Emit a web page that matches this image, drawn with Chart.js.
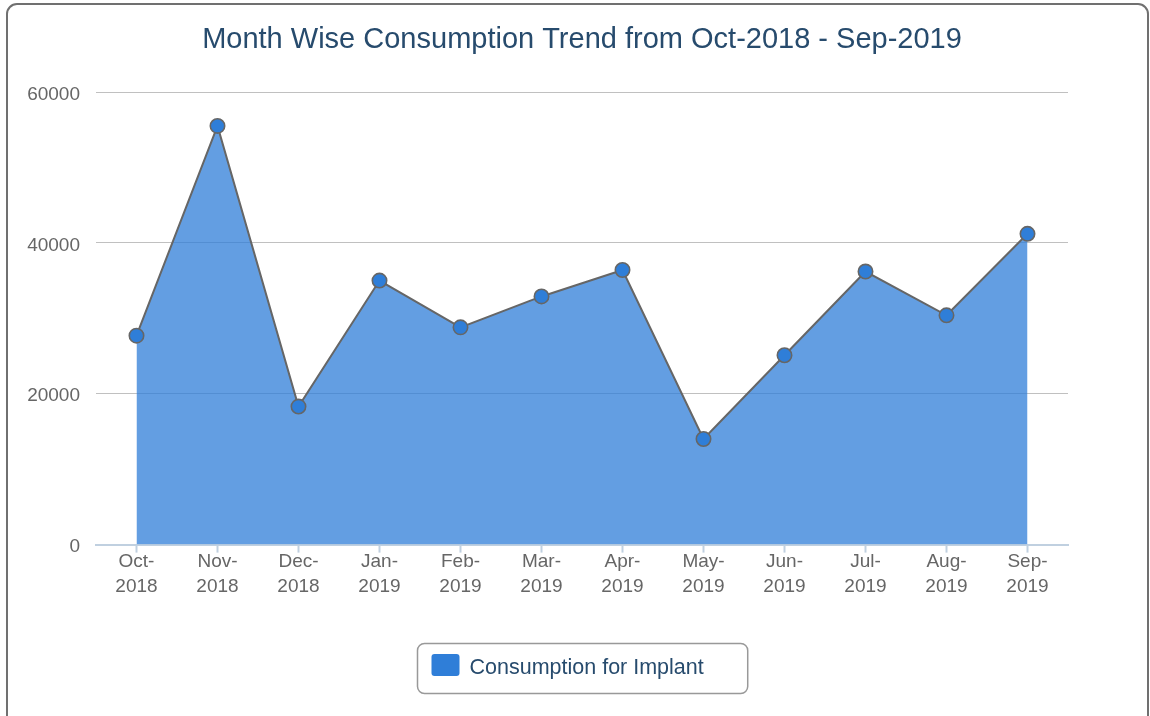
<!DOCTYPE html>
<html>
<head>
<meta charset="utf-8">
<script src="https://cdn.jsdelivr.net/npm/chart.js@4"></script>
<style>
  html, body { margin: 0; padding: 0; background: #ffffff; }
  canvas { display: block; }
</style>
</head>
<body>
<canvas id="c" width="1150" height="716"></canvas>
<script>
const months = ['Oct-', 'Nov-', 'Dec-', 'Jan-', 'Feb-', 'Mar-', 'Apr-', 'May-', 'Jun-', 'Jul-', 'Aug-', 'Sep-'];
const years = ['2018', '2018', '2018', '2019', '2019', '2019', '2019', '2019', '2019', '2019', '2019', '2019'];
const consumption = [27700, 55500, 18300, 35000, 28800, 32900, 36400, 14000, 25100, 36200, 30400, 41200];
const yTicks = [0, 20000, 40000, 60000];
const seriesName = 'Consumption for Implant';
const titleText = 'Month Wise Consumption Trend from Oct-2018 - Sep-2019';

const labels = months.map((m, i) => [m, years[i]]);
const FONT = 'Arial, "Liberation Sans", sans-serif';

function roundRect(ctx, x, y, w, h, r) {
  ctx.beginPath();
  ctx.moveTo(x + r, y);
  ctx.lineTo(x + w - r, y);
  ctx.arcTo(x + w, y, x + w, y + r, r);
  ctx.lineTo(x + w, y + h - r);
  ctx.arcTo(x + w, y + h, x + w - r, y + h, r);
  ctx.lineTo(x + r, y + h);
  ctx.arcTo(x, y + h, x, y + h - r, r);
  ctx.lineTo(x, y + r);
  ctx.arcTo(x, y, x + r, y, r);
  ctx.closePath();
}

const framePlugin = {
  id: 'frame',
  afterDraw(chart) {
    const ctx = chart.ctx;
    ctx.save();
    // outer chart border
    ctx.strokeStyle = '#707070';
    ctx.lineWidth = 2;
    roundRect(ctx, 7, 4, 1141, 740, 10);
    ctx.stroke();

    // legend
    const ds = chart.data.datasets[0];
    const ca = chart.chartArea;
    const cx = (ca.left + ca.right) / 2;
    ctx.font = '21.5px ' + FONT;
    const tw = ctx.measureText(ds.label).width;
    const padL = 14, sw = 28, sh = 22, gap = 10, padR = 44;
    const bw = padL + sw + gap + tw + padR;
    const bx = Math.round(cx - bw / 2) + 0.5;
    const by = 643.5, bh = 50;
    ctx.strokeStyle = '#999999';
    ctx.lineWidth = 1.5;
    roundRect(ctx, bx, by, bw, bh, 7);
    ctx.fillStyle = '#ffffff';
    ctx.fill();
    ctx.stroke();
    ctx.fillStyle = ds.pointBackgroundColor;
    roundRect(ctx, bx + padL, by + 10.5, sw, sh, 3);
    ctx.fill();
    ctx.fillStyle = '#274b6d';
    ctx.textBaseline = 'alphabetic';
    ctx.textAlign = 'left';
    ctx.fillText(ds.label, bx + padL + sw + gap, by + 30.5);
    ctx.restore();
  }
};

new Chart(document.getElementById('c'), {
  type: 'line',
  data: {
    labels: labels,
    datasets: [{
      label: seriesName,
      data: consumption,
      fill: 'origin',
      backgroundColor: 'rgba(47,126,216,0.75)',
      borderColor: '#666666',
      borderWidth: 2,
      tension: 0,
      pointRadius: 7.2,
      pointHoverRadius: 7.2,
      pointBackgroundColor: '#2f7ed8',
      pointBorderColor: '#666666',
      pointBorderWidth: 1.6
    }]
  },
  options: {
    responsive: false,
    devicePixelRatio: 1,
    animation: false,
    layout: { padding: { left: 0, right: 82, top: 0, bottom: 120 } },
    plugins: {
      legend: { display: false },
      tooltip: { enabled: false },
      title: {
        display: true,
        text: titleText,
        fullSize: false,
        color: '#274b6d',
        font: { family: FONT, size: 29, weight: 'normal', lineHeight: 1.2 },
        padding: { top: 23, bottom: 34.2 }
      }
    },
    scales: {
      x: {
        type: 'category',
        offset: true,
        grid: {
          display: true,
          offset: false,
          drawOnChartArea: false,
          drawTicks: true,
          tickLength: 8,
          tickColor: '#c0d0e0',
          tickWidth: 2
        },
        border: { display: true, color: '#c0d0e0', width: 2 },
        ticks: {
          color: '#666666',
          font: { family: FONT, size: 19, lineHeight: 1.3 },
          padding: -3,
          maxRotation: 0,
          minRotation: 0,
          autoSkip: false
        }
      },
      y: {
        min: 0,
        max: 60000,
        afterFit(scale) { scale.width = 96; },
        afterBuildTicks(scale) { scale.ticks = yTicks.map(v => ({ value: v })); },
        grid: { color: '#c0c0c0', lineWidth: 1, drawTicks: false },
        border: { display: false },
        ticks: {
          color: '#666666',
          font: { family: FONT, size: 19, lineHeight: '5px' },
          padding: 16,
          autoSkip: false,
          callback: (v) => ['', String(v)]
        }
      }
    }
  },
  plugins: [framePlugin]
});
</script>
</body>
</html>
